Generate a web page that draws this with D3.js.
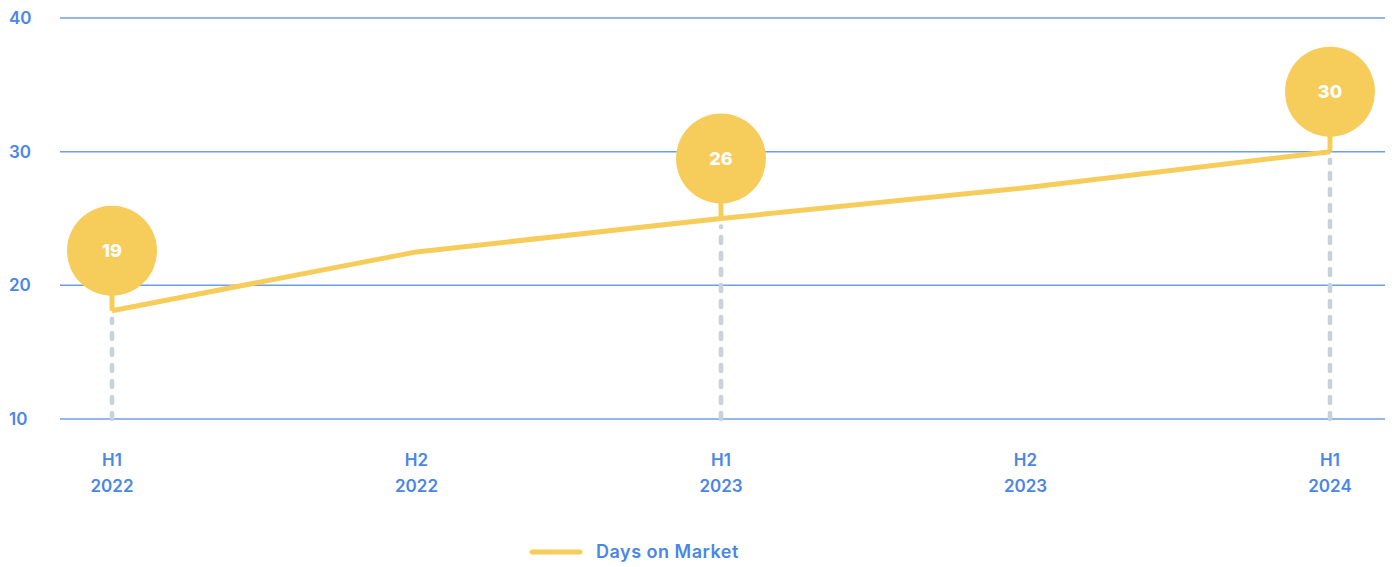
<!DOCTYPE html>
<html>
<head>
<meta charset="utf-8">
<script src="https://cdn.jsdelivr.net/npm/d3@7"></script>
<style>
  html, body { margin: 0; padding: 0; background: #fff; }
  svg { display: block; font-family: "Inter", "Noto Sans", sans-serif; }
</style>
</head>
<body>
<svg id="chart" width="1396" height="567"></svg>
<script>
const periods = ["H1", "H2", "H1", "H2", "H1"];
const years = ["2022", "2022", "2023", "2023", "2024"];
const daysOnMarket = [18.1, 22.5, 25.0, 27.3, 30.0];
// bubble annotations: index into the series + the label shown
const bubbleIdx = [0, 2, 4];
const bubbleLabels = ["19", "26", "30"];
const yTicks = [10, 20, 30, 40];

const colours = {
  grid: "#6d9eeb",
  text: "#4a86e8",
  line: "#f6cc5b",
  drop: "#c7d3da",
};

const svg = d3.select("#chart");
const keys = periods.map((p, i) => i);

const x = d3.scalePoint().domain(keys).range([112, 1330]);
const y = d3.scaleLinear().domain([10, 40]).range([419, 18]);

// grid lines + y labels
const grid = svg.append("g").attr("class", "grid");
grid
  .selectAll("line")
  .data(yTicks)
  .join("line")
  .attr("x1", 60)
  .attr("x2", 1385)
  .attr("y1", (d) => y(d))
  .attr("y2", (d) => y(d))
  .style("stroke", colours.grid)
  .style("stroke-width", 1.5);

grid
  .selectAll("text")
  .data(yTicks)
  .join("text")
  .attr("x", 9)
  .attr("y", (d) => y(d))
  .attr("dy", "0.35em")
  .style("fill", colours.text)
  .style("font-size", "17px")
  .style("font-weight", 600)
  .text((d) => d);

// x labels (two lines)
const xl = svg
  .append("g")
  .selectAll("text")
  .data(keys)
  .join("text")
  .attr("x", (d) => x(d))
  .attr("text-anchor", "middle")
  .style("fill", colours.text)
  .style("font-size", "17px")
  .style("font-weight", 600);
xl.append("tspan").attr("x", (d) => x(d)).attr("y", 466).text((d) => periods[d]);
xl.append("tspan").attr("x", (d) => x(d)).attr("y", 492).text((d) => years[d]);

// dotted drop lines under annotated points (drawn bottom-up so a dash sits on the baseline)
svg
  .append("g")
  .selectAll("line")
  .data(bubbleIdx)
  .join("line")
  .attr("x1", (d) => x(d))
  .attr("x2", (d) => x(d))
  .attr("y1", y(10))
  .attr("y2", (d) => y(daysOnMarket[d]) + 8)
  .style("stroke", colours.drop)
  .style("stroke-width", 4.5)
  .style("stroke-linecap", "round")
  .style("stroke-dasharray", "6 10");

// the line
const line = d3
  .line()
  .x((d, i) => x(i))
  .y((d) => y(d));

svg
  .append("path")
  .datum(daysOnMarket)
  .attr("d", line)
  .style("fill", "none")
  .style("stroke", colours.line)
  .style("stroke-width", 5);

// bubbles
const bubbles = svg
  .append("g")
  .selectAll("g")
  .data(bubbleIdx)
  .join("g")
  .attr("transform", (d) => `translate(${x(d)},${y(daysOnMarket[d]) - 60})`);

bubbles
  .append("line")
  .attr("x1", 0)
  .attr("x2", 0)
  .attr("y1", 0)
  .attr("y2", 60)
  .style("stroke", colours.line)
  .style("stroke-width", 5);

bubbles.append("circle").attr("r", 45).style("fill", colours.line);

bubbles
  .append("text")
  .attr("text-anchor", "middle")
  .attr("dy", "0.35em")
  .style("fill", "#fff")
  .style("font-size", "18px")
  .style("font-weight", 800)
  .text((d, i) => bubbleLabels[i]);

// legend
const legend = svg.append("g").attr("transform", "translate(530,552)");
legend
  .append("line")
  .attr("x1", 2)
  .attr("x2", 50)
  .style("stroke", colours.line)
  .style("stroke-width", 5)
  .style("stroke-linecap", "round");
legend
  .append("text")
  .attr("x", 66)
  .attr("dy", "0.35em")
  .style("fill", colours.text)
  .style("font-size", "18px")
  .style("font-weight", 600)
  .style("letter-spacing", "0.5px")
  .text("Days on Market");
</script>
</body>
</html>
